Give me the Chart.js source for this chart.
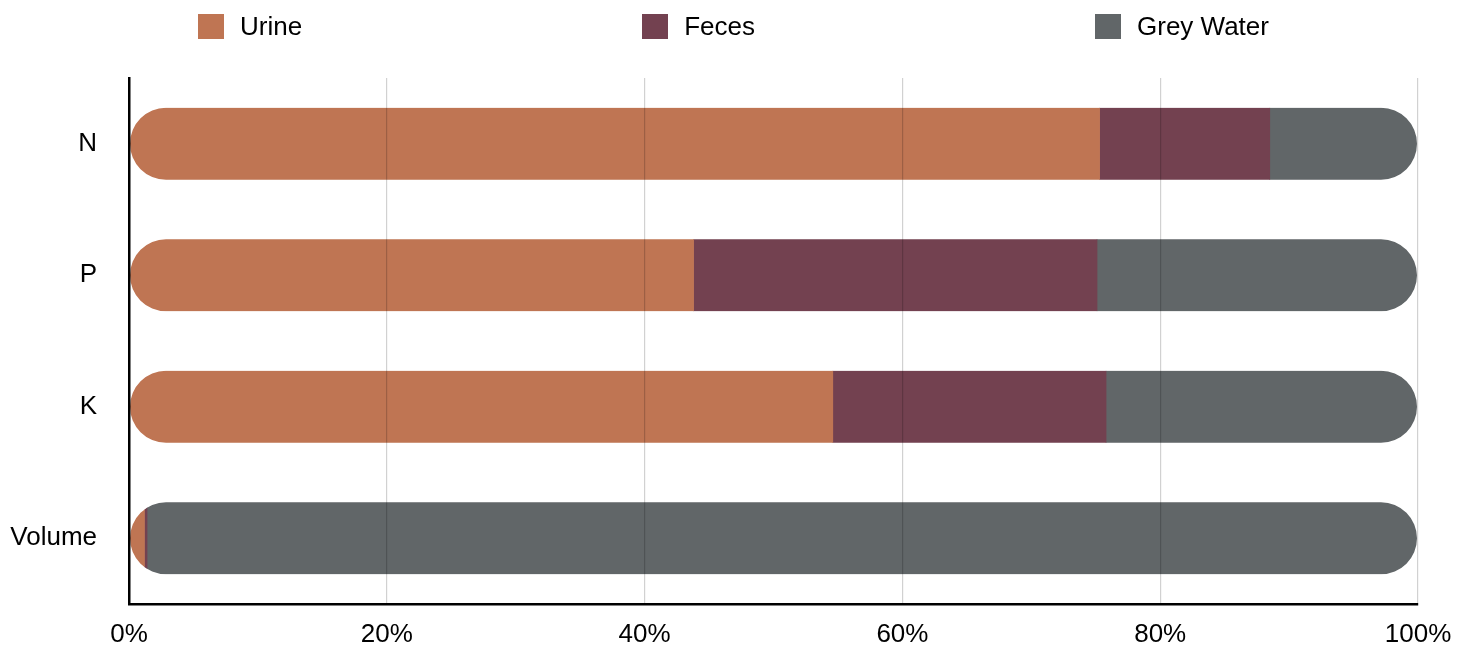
<!DOCTYPE html>
<html>
<head>
<meta charset="utf-8">
<script src="https://cdn.jsdelivr.net/npm/chart.js@4"></script>
<style>
  html, body { margin: 0; padding: 0; background: #fff; }
  #wrap { position: relative; width: 1467px; height: 646px; }
  #legend {
    position: absolute; left: 0; top: 13px; width: 100%;
    display: flex; justify-content: center; gap: 340px;
    font-family: "Liberation Sans", Arial, sans-serif; font-size: 26px; color: #000;
  }
  .item { display: flex; align-items: center; height: 27px; white-space: nowrap; }
  .swatch { width: 26px; height: 25px; margin-right: 16px; }
  canvas { position: absolute; left: 0; top: 0; }
</style>
</head>
<body>
<div id="wrap">
  <canvas id="c" width="1467" height="646"></canvas>
  <div id="legend"></div>
</div>
<script>
// Share of each nutrient / volume by household waste stream (percent)
const categories = ['N', 'P', 'K', 'Volume'];
const urine     = [75.3, 43.8, 54.6, 1.2];
const feces     = [13.2, 31.3, 21.2, 0.2];
const greyWater = [11.5, 24.9, 24.2, 98.6];
const seriesNames = ['Urine', 'Feces', 'Grey Water'];
const seriesColors = ['#BF7553', '#734150', '#616668'];
const xTicks = [0, 20, 40, 60, 80, 100];

const BAR_H = 72;

// Clip each row's stacked segments to one pill-shaped outline
const pillClip = {
  id: 'pillClip',
  beforeDatasetsDraw(chart) {
    const { ctx, scales: { x, y } } = chart;
    ctx.save();
    ctx.beginPath();
    categories.forEach((c, i) => {
      const cy = y.getPixelForValue(i);
      const x0 = x.getPixelForValue(0) + 1;
      const x1 = x.getPixelForValue(100) - 1;
      ctx.roundRect(x0, cy - BAR_H / 2, x1 - x0, BAR_H, BAR_H / 2);
    });
    ctx.clip();
  },
  afterDatasetsDraw(chart) {
    chart.ctx.restore();
  }
};

const values = [urine, feces, greyWater];
const datasets = seriesNames.map((name, k) => ({
  label: name,
  data: values[k],
  backgroundColor: seriesColors[k],
  borderWidth: 0,
  barThickness: BAR_H
}));

// HTML legend built from the datasets
const legendEl = document.getElementById('legend');
datasets.forEach(ds => {
  const item = document.createElement('div');
  item.className = 'item';
  const sw = document.createElement('span');
  sw.className = 'swatch';
  sw.style.background = ds.backgroundColor;
  const tx = document.createElement('span');
  tx.textContent = ds.label;
  item.appendChild(sw);
  item.appendChild(tx);
  legendEl.appendChild(item);
});

const font = { family: '"Liberation Sans", Arial, sans-serif', size: 26 };

new Chart(document.getElementById('c'), {
  type: 'bar',
  data: { labels: categories, datasets },
  options: {
    indexAxis: 'y',
    responsive: false,
    animation: false,
    layout: { padding: { top: 78, left: 10, right: 49, bottom: 0 } },
    plugins: { legend: { display: false }, tooltip: { enabled: false } },
    scales: {
      x: {
        stacked: true,
        min: 0,
        max: 100,
        afterBuildTicks(scale) { scale.ticks = xTicks.map(v => ({ value: v })); },
        afterFit(scale) { scale.height = 42; },
        ticks: {
          font, color: '#000', padding: 15,
          callback: v => v + '%'
        },
        // grid lines sit above the bars
        grid: { color: 'rgba(0,0,0,0.18)', lineWidth: 1.2, drawTicks: false, z: 1 },
        border: { display: true, color: '#000', width: 2.5, z: 2 }
      },
      y: {
        stacked: true,
        afterFit(scale) {
          scale.width = 119;
          // the label gap should not push the plot area in from top/bottom
          scale.paddingTop = 0;
          scale.paddingBottom = 0;
        },
        ticks: { font, color: '#000', padding: 32 },
        grid: { display: false, drawTicks: false },
        border: { display: true, color: '#000', width: 2.5, z: 2 }
      }
    }
  },
  plugins: [pillClip]
});
</script>
</body>
</html>
